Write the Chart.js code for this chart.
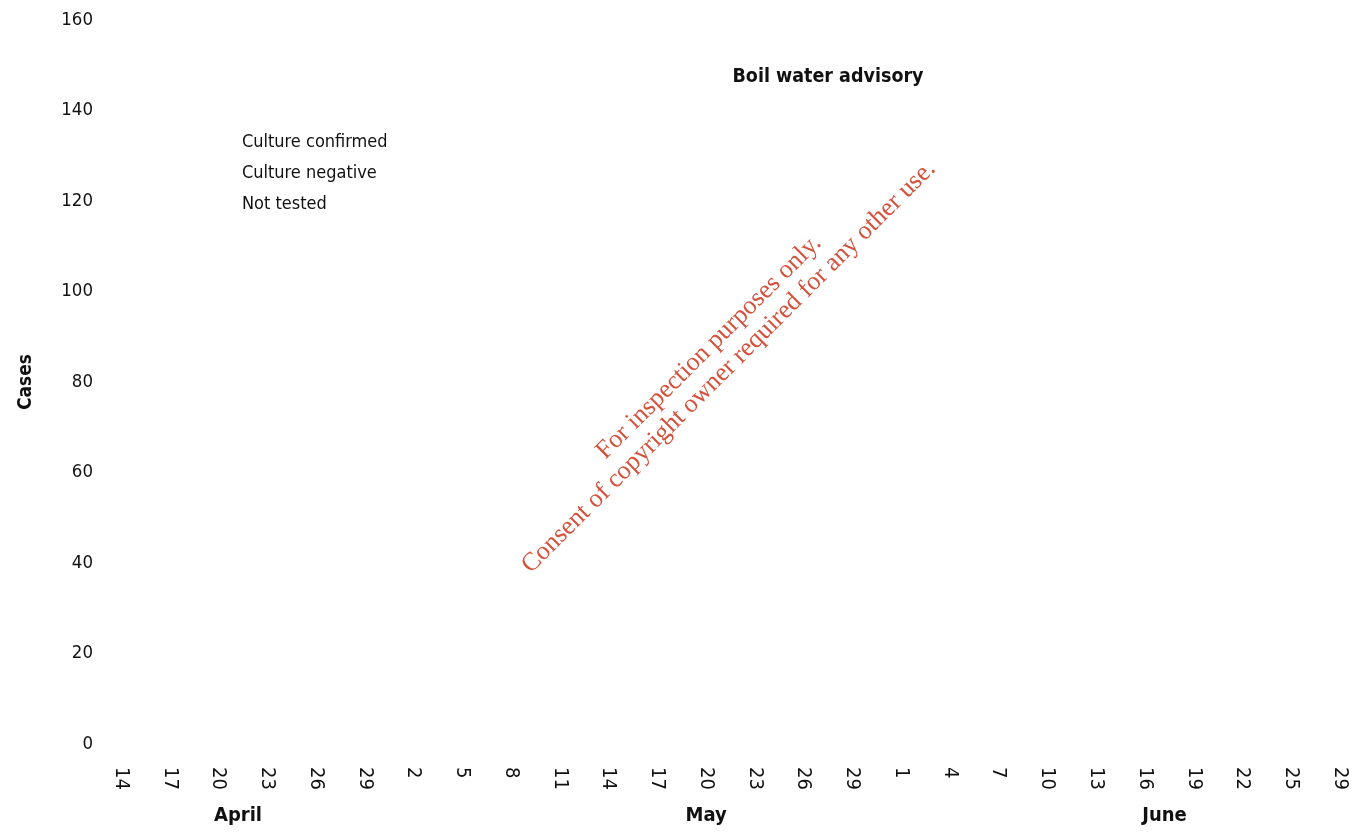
<!DOCTYPE html>
<html>
<head>
<meta charset="utf-8">
<script src="https://cdn.jsdelivr.net/npm/chart.js@4"></script>
<style>
  html, body { margin: 0; padding: 0; background: #fff; }
  #wrap { width: 1359px; height: 833px; position: relative; }
</style>
</head>
<body>
<div id="wrap"><canvas id="chart"></canvas></div>
<script>
// x categories, one every 3 days (the last one is printed as 29)
const dayLabels = ['14', '17', '20', '23', '26', '29', '2', '5', '8', '11', '14', '17', '20', '23', '26', '29',
                   '1', '4', '7', '10', '13', '16', '19', '22', '25', '29'];
// no bars are visible in the picture
const confirmed = [0, 0, 0, 0, 0, 0, 0, 0, 0, 0, 0, 0, 0, 0, 0, 0, 0, 0, 0, 0, 0, 0, 0, 0, 0, 0];
const negative  = [0, 0, 0, 0, 0, 0, 0, 0, 0, 0, 0, 0, 0, 0, 0, 0, 0, 0, 0, 0, 0, 0, 0, 0, 0, 0];
const notTested = [0, 0, 0, 0, 0, 0, 0, 0, 0, 0, 0, 0, 0, 0, 0, 0, 0, 0, 0, 0, 0, 0, 0, 0, 0, 0];
const seriesNames = ['Culture confirmed', 'Culture negative', 'Not tested'];
const monthNames = ['April', 'May', 'June'];
const yTicks = [0, 20, 40, 60, 80, 100, 120, 140, 160];
const noteText = 'Boil water advisory';
const stampLines = ['For inspection purposes only.', 'Consent of copyright owner required for any other use.'];

const FONT = '"Liberation Sans Narrow", "Arial Narrow", "DejaVu Sans Condensed", sans-serif';

// extra text: rotated day labels, months, note, legend, stamp
const extras = {
    id: 'extras',
    afterDraw(chart) {
        const ctx = chart.ctx;
        const xs = chart.scales.x;
        const ys = chart.scales.y;
        ctx.save();
        ctx.fillStyle = '#111';

        // day labels, turned clockwise
        ctx.font = '20px ' + FONT;
        dayLabels.forEach((lab, i) => {
            ctx.save();
            ctx.translate(xs.getPixelForTick(i), ys.bottom + 23);
            ctx.rotate(Math.PI / 2);
            ctx.textAlign = 'left';
            ctx.textBaseline = 'middle';
            ctx.fillText(lab, 0, 0);
            ctx.restore();
        });

        // months
        const monthAt = [2.4, 12, 21.4];
        ctx.font = 'bold 20px ' + FONT;
        ctx.textAlign = 'center';
        ctx.textBaseline = 'middle';
        monthNames.forEach((m, i) => {
            ctx.fillText(m, xs.getPixelForValue(monthAt[i]), ys.bottom + 72);
        });

        // note
        ctx.font = 'bold 19.5px ' + FONT;
        ctx.fillText(noteText, xs.getPixelForValue(14.5), ys.getPixelForValue(147.5));

        // legend (no swatches visible)
        ctx.font = '18px ' + FONT;
        ctx.textAlign = 'left';
        seriesNames.forEach((s, i) => {
            ctx.fillText(s, xs.getPixelForValue(2.48), ys.getPixelForValue(133) + i * 31);
        });

        // stamp
        ctx.translate(xs.getPixelForValue(12.26), ys.getPixelForValue(85.5));
        ctx.rotate(-44.9 * Math.PI / 180);
        ctx.fillStyle = '#d4513b';
        ctx.font = '26px "Liberation Serif", serif';
        ctx.textAlign = 'center';
        ctx.fillText(stampLines[0], 0, -14);
        ctx.fillText(stampLines[1], 0, 14);
        ctx.restore();
    }
};

new Chart('chart', {
    type: 'bar',
    data: {
        labels: dayLabels,
        datasets: [{
            label: seriesNames[0],
            data: confirmed,
            backgroundColor: '#000'
        }, {
            label: seriesNames[1],
            data: negative,
            backgroundColor: '#888'
        }, {
            label: seriesNames[2],
            data: notTested,
            backgroundColor: '#ddd'
        }]
    },
    options: {
        responsive: true,
        maintainAspectRatio: false,
        animation: false,
        layout: {
            padding: { top: 20, right: 19, left: 0, bottom: 0 }
        },
        scales: {
            x: {
                stacked: true,
                offset: false,
                grid: { display: false, drawTicks: false },
                border: { display: false },
                ticks: { display: false },
                afterFit(scale) { scale.height = 89; }
            },
            y: {
                stacked: true,
                min: 0,
                max: 160,
                grid: { display: false, drawTicks: false },
                border: { display: false },
                afterBuildTicks(scale) { scale.ticks = yTicks.map(v => ({ value: v })); },
                ticks: {
                    padding: 28,
                    color: '#111',
                    font: { family: FONT, size: 18.5 }
                },
                title: {
                    display: true,
                    text: 'Cases',
                    color: '#111',
                    font: { family: FONT, size: 19, weight: 'bold' },
                    padding: { top: 15 }
                },
                afterFit(scale) {
                    scale.width = 121;
                    scale.paddingTop = 0;
                    scale.paddingBottom = 0;
                }
            }
        },
        plugins: {
            legend: { display: false },
            tooltip: { enabled: false }
        }
    },
    plugins: [extras]
});
</script>
</body>
</html>
